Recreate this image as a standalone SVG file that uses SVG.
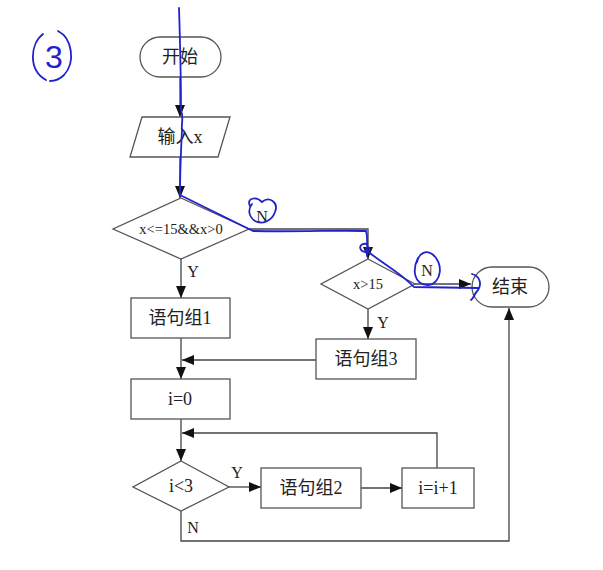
<svg xmlns="http://www.w3.org/2000/svg" width="603" height="570" viewBox="0 0 603 570">
<style>
.s{fill:#fff;stroke:#555;stroke-width:1.3}
.t{font-family:"Liberation Serif","Noto Sans CJK SC",serif;font-size:18px;fill:#222;text-anchor:middle;dominant-baseline:central}
.sm{font-size:14.5px}
.l{font-family:"Liberation Serif",serif;font-size:16px;fill:#222;text-anchor:middle;dominant-baseline:central}
.c{fill:none;stroke:#444;stroke-width:1.3}
.b{fill:none;stroke:#2222cc;stroke-width:1.8;stroke-linecap:round;stroke-linejoin:round}
</style>
<defs>
<marker id="a" viewBox="0 0 12 10" refX="12" refY="5" markerWidth="12" markerHeight="10" markerUnits="userSpaceOnUse" orient="auto">
<path d="M0,0 L12,5 L0,10 Z" fill="#111"/>
</marker>
</defs>
<rect width="603" height="570" fill="#fff"/>
<g id="connectors">
<path class="c" d="M180,77 V117" marker-end="url(#a)"/>
<path class="c" d="M180,157 V198" marker-end="url(#a)"/>
<path class="c" d="M181,258 V298" marker-end="url(#a)"/>
<path class="c" d="M249,229 H368 V259" marker-end="url(#a)"/>
<path class="c" d="M415,284 H471" marker-end="url(#a)"/>
<path class="c" d="M368,309 V339" marker-end="url(#a)"/>
<path class="c" d="M181,338 V379" marker-end="url(#a)"/>
<path class="c" d="M316,360 H182" marker-end="url(#a)"/>
<path class="c" d="M181,419 V461" marker-end="url(#a)"/>
<path class="c" d="M437,468 V433 H182" marker-end="url(#a)"/>
<path class="c" d="M229,487 H261" marker-end="url(#a)"/>
<path class="c" d="M361,488 H402" marker-end="url(#a)"/>
<path class="c" d="M181,511 V541 H509 V308" marker-end="url(#a)"/>
<text class="l" x="262" y="216">N</text>
<text class="l" x="193" y="271">Y</text>
<text class="l" x="427" y="270">N</text>
<text class="l" x="383" y="322">Y</text>
<text class="l" x="237" y="472">Y</text>
<text class="l" x="193" y="527">N</text>
</g>
<g id="start"><rect class="s" x="140" y="37" width="81" height="40" rx="20"/><text class="t" x="180" y="57">开始</text></g>
<g id="input"><polygon class="s" points="142,117 230,117 218,157 130,157"/><text class="t" x="180" y="137">输入x</text></g>
<g id="cond1"><polygon class="s" points="181,198 249,229 181,259 113,229"/><text class="t sm" x="181" y="229">x&lt;=15&amp;&amp;x&gt;0</text></g>
<g id="cond2"><polygon class="s" points="368,259 415,284 368,309 321,284"/><text class="t sm" x="368" y="284">x&gt;15</text></g>
<g id="end"><rect class="s" x="472" y="267" width="77" height="40" rx="20"/><text class="t" x="510" y="287">结束</text></g>
<g id="block1"><rect class="s" x="131" y="298" width="99" height="40"/><text class="t" x="180" y="318">语句组1</text></g>
<g id="block3"><rect class="s" x="316" y="339" width="100" height="40"/><text class="t" x="366" y="359">语句组3</text></g>
<g id="init"><rect class="s" x="131" y="379" width="99" height="40"/><text class="t" x="180" y="399">i=0</text></g>
<g id="cond3"><polygon class="s" points="181,461 229,487 181,511 133,487"/><text class="t" x="181" y="486">i&lt;3</text></g>
<g id="block2"><rect class="s" x="261" y="468" width="100" height="40"/><text class="t" x="311" y="488">语句组2</text></g>
<g id="incr"><rect class="s" x="402" y="468" width="72" height="40"/><text class="t" x="438" y="488">i=i+1</text></g>
<g id="annotations">
<path class="b" d="M43,34 C30,44 28,70 46,80"/>
<path class="b" d="M58,31 C72,38 76,62 64,75 C60,79 55,81 50,81"/>
<text x="54" y="57" font-family="'Liberation Sans',sans-serif" font-size="32" fill="#2222cc" text-anchor="middle" dominant-baseline="central">3</text>
<path class="b" d="M179,8 C180,40 181,80 181,110 C184,118 181,124 182,130 C181,150 180,175 180,195 L253,231 C300,232 340,230 366,231 C368,238 367,248 367,256"/>
<path class="b" d="M367,244 C358,242 358,252 366,252 C372,250 370,246 366,248"/>
<path class="b" d="M366,250 C380,262 400,272 414,287 L478,288"/>
<path class="b" d="M472,274 C480,276 482,284 478,290 C474,294 474,298 471,300"/>
<path class="b" d="M250,206 C246,198 256,196 262,202 C269,196 279,202 275,212 C272,221 262,225 255,221 C248,216 248,209 252,204"/>
<path class="b" d="M418,258 C412,270 414,285 428,285 C442,284 444,262 432,254 C426,250 419,253 417,262"/>
</g>
</svg>
